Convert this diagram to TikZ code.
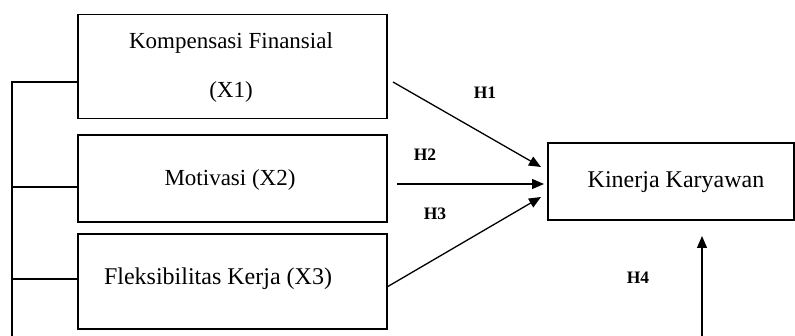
\documentclass[tikz,border=0pt]{standalone}
\usepackage{fontspec}
\setmainfont{Liberation Serif}
\usetikzlibrary{arrows.meta,calc}
\begin{document}
\begin{tikzpicture}[x=1pt,y=-1pt,
  box/.style={draw,line width=1.4pt,inner sep=0pt},
  lbl/.style={inner sep=0pt,anchor=center,font=\fontsize{23}{49}\selectfont,align=center},
  hlbl/.style={inner sep=0pt,font=\fontsize{17.5}{20}\selectfont\bfseries},
  conn/.style={line width=1.4pt},
  arr/.style={line width=1.3pt,-{Triangle[length=12pt,width=10pt]}}]
\useasboundingbox (0,0) rectangle (795,336);
% boxes
\node[box,minimum width=309pt,minimum height=104pt] (b1) at (232.5,66.5) {};
\node[box,minimum width=309pt,minimum height=87pt] (b2) at (232.5,178.5) {};
\node[box,minimum width=309pt,minimum height=95pt] (b3) at (232.5,281.5) {};
\node[box,minimum width=246pt,minimum height=77pt] (ky) at (671,181.5) {};
% texts
\node[lbl] (t1) at (231,67.5) {Kompensasi Finansial\\(X1)};
\node[lbl] (t2) at (230,180) {Motivasi (X2)};
\node[lbl,font=\fontsize{24}{28}\selectfont] (t3) at (218,279) {Fleksibilitas Kerja (X3)};
\node[lbl,font=\fontsize{24}{28}\selectfont] (tk) at (676,182) {Kinerja Karyawan};
% left bracket
\coordinate (lt) at (12,82);
\coordinate (lb) at (12,336);
\coordinate (m2) at (12,187);
\coordinate (m3) at (12,279);
\draw[conn] (lt -| b1.west) -- (lt) -- (lb);
\draw[conn] (m2) -- (m2 -| b2.west);
\draw[conn] (m3) -- (m3 -| b3.west);
% arrows
\coordinate (h1s) at (393,82);
\coordinate (h1e) at (541,167);
\coordinate (h2s) at (397,184);
\coordinate (h2e) at (544,184);
\coordinate (h3s) at (387,287);
\coordinate (h3e) at (541,197);
\coordinate (h4s) at (702,336);
\coordinate (h4e) at (702,236);
\draw[arr] (h1s) -- (h1e);
\draw[arr] (h2s) -- (h2e);
\draw[arr] (h3s) -- (h3e);
\draw[arr] (h4s) -- (h4e);
% hypothesis labels
\node[hlbl] (H1) at (485,93) {H1};
\node[hlbl] (H2) at (425,155) {H2};
\node[hlbl] (H3) at (435,214) {H3};
\node[hlbl] (H4) at (638,278) {H4};
\end{tikzpicture}
\end{document}
